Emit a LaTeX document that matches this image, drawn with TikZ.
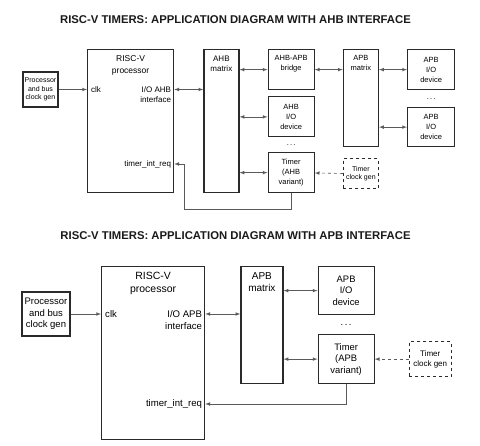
\documentclass[tikz,border=0pt]{standalone}
\usepackage{fontspec}
\setmainfont{Liberation Sans}
\usepackage{tikz}
\usepackage{xcolor}
\usetikzlibrary{arrows, positioning}
\definecolor{boxline}{HTML}{2A2A2A}
\definecolor{wireline}{HTML}{5A5A5A}
\definecolor{titletext}{HTML}{1A1A1A}

\begin{document}
\begin{tikzpicture}[x=1pt, y=-1pt, >=latex,
  block/.style={draw=boxline, line width=1.25pt, fill=white, inner sep=1pt, align=center},
  clkbox/.style={block, dashed, line width=1pt},
  wire/.style={draw=wireline, line width=0.65pt},
  bus/.style={wire, <->},
  title/.style={font=\bfseries\fontsize{11.3}{13}\selectfont, text=titletext},
  small/.style={font=\fontsize{7.5}{10}\selectfont},
  smallport/.style={inner sep=1pt, align=right, font=\fontsize{8}{10}\selectfont},
  large/.style={font=\fontsize{9.4}{11.5}\selectfont},
  largeport/.style={inner sep=1pt, align=right, font=\fontsize{9.6}{12}\selectfont}]

\useasboundingbox (0,0) rectangle (480,446);

\node[title] (title1) at (235.5,20) {RISC-V TIMERS: APPLICATION DIAGRAM WITH AHB INTERFACE};

\node[block, minimum width=86pt, minimum height=143pt, anchor=north west,
  label={[anchor=north, yshift=-3pt, align=center, font=\fontsize{8.5}{12}\selectfont]north:RISC-V\\processor}] (cpu1) at (87,49) {};
\node[block, small, font=\fontsize{7}{8.5}\selectfont, minimum width=35pt, minimum height=35pt] (pclk1) at (40.5,89.5) {Processor\\and bus\\clock gen};
\node[block, minimum width=35pt, minimum height=143pt, right=29pt of cpu1,
  label={[anchor=north, yshift=-3pt, align=center, font=\fontsize{8}{10}\selectfont]north:AHB\\matrix}] (ahbm) {};
\node[block, minimum width=46pt, minimum height=40pt, right=28pt of ahbm.north east, anchor=north west,
  label={[anchor=north, yshift=-3pt, align=center, small]north:AHB-APB\\bridge}] (bridge) {};
\node[block, small, minimum width=46pt, minimum height=40pt, below=6pt of bridge] (ahbdev) {AHB\\I/O\\device};
\node[block, small, minimum width=46pt, minimum height=40pt, right=28pt of ahbm.south east, anchor=south west] (tmr1) {Timer\\(AHB\\variant)};
\path (ahbdev.south) -- node[small] (dots1) {.\,.\,.} (tmr1.north);
\node[block, minimum width=35pt, minimum height=97pt, right=28pt of bridge.north east, anchor=north west,
  label={[anchor=north, yshift=-3pt, align=center, small]north:APB\\matrix}] (apbm1) {};
\node[block, small, minimum width=47pt, minimum height=40pt, right=28pt of apbm1.north east, anchor=north west] (apbdev1) {APB\\I/O\\device};
\node[block, small, minimum width=47pt, minimum height=39pt, right=28pt of apbm1.south east, anchor=south west] (apbdev2) {APB\\I/O\\device};
\path (apbdev1.south) -- node[small] (dots2) {.\,.\,.} (apbdev2.north);
\node[clkbox, font=\fontsize{7}{8}\selectfont, minimum width=35pt, minimum height=30pt, below=11pt of apbm1] (tclk1) {Timer\\clock gen};

\node[smallport, anchor=west, xshift=3pt] (clk1) at (cpu1.west |- pclk1) {clk};
\node[smallport, anchor=north east, xshift=-2pt] (io1) at (cpu1.east |- clk1.north) {I/O AHB\\interface};
\node[smallport, anchor=east, xshift=-2pt] (irq1) at (cpu1.east |- 0,164) {timer\_int\_req};
\coordinate (bend1) at (184,209);

\draw[wire, ->] (pclk1) -- (pclk1 -| cpu1.west);
\draw[bus] (clk1 -| cpu1.east) -- (clk1 -| ahbm.west);
\draw[bus] (bridge.west -| ahbm.east) -- (bridge);
\draw[bus] (ahbdev.west -| ahbm.east) -- (ahbdev);
\draw[bus] (tmr1.west -| ahbm.east) -- (tmr1);
\draw[bus] (bridge) -- (bridge -| apbm1.west);
\draw[bus] (apbdev1.west -| apbm1.east) -- (apbdev1);
\draw[bus] (apbdev2.west -| apbm1.east) -- (apbdev2);
\draw[wire, dashed, ->] (tclk1) -- (tmr1);
\draw[wire, ->] (tmr1.south) |- (bend1) |- (irq1 -| cpu1.east);

\node[title] (title2) at (235.5,236) {RISC-V TIMERS: APPLICATION DIAGRAM WITH APB INTERFACE};

\node[block, minimum width=103pt, minimum height=173pt, anchor=north west,
  label={[anchor=north, yshift=-3pt, align=center, font=\fontsize{10.5}{13}\selectfont]north:RISC-V\\processor}] (cpu2) at (101,266) {};
\node[block, font=\fontsize{9.5}{11.7}\selectfont, minimum width=48pt, minimum height=44pt] (pclk2) at (46,314) {Processor\\and bus\\clock gen};
\node[block, minimum width=42pt, minimum height=117pt, right=35pt of cpu2.north east, anchor=north west,
  label={[anchor=north, yshift=-3pt, align=center, font=\fontsize{10}{12}\selectfont]north:APB\\matrix}] (apbm2) {};
\node[block, large, minimum width=56pt, minimum height=48pt, right=34pt of apbm2.north east, anchor=north west] (apbdev3) {APB\\I/O\\device};
\node[block, large, minimum width=56pt, minimum height=49pt, right=34pt of apbm2.south east, anchor=south west] (tmr2) {Timer\\(APB\\variant)};
\path (apbdev3.south) -- node[large] (dots3) {.\,.\,.} (tmr2.north);
\node[clkbox, font=\fontsize{8}{10}\selectfont, minimum width=42pt, minimum height=35pt, right=34pt of tmr2] (tclk2) {Timer\\clock gen};

\node[largeport, anchor=west, xshift=3pt] (clk2) at (cpu2.west |- pclk2) {clk};
\node[largeport, anchor=north east, xshift=-2pt] (io2) at (cpu2.east |- clk2.north) {I/O APB\\interface};
\node[largeport, anchor=east, xshift=-2pt] (irq2) at (cpu2.east |- 0,404) {timer\_int\_req};

\draw[wire, ->] (pclk2) -- (pclk2 -| cpu2.west);
\draw[bus] (clk2 -| cpu2.east) -- (clk2 -| apbm2.west);
\draw[bus] (apbdev3.west -| apbm2.east) -- (apbdev3);
\draw[bus] (tmr2.west -| apbm2.east) -- (tmr2);
\draw[wire, dashed, ->] (tclk2) -- (tmr2);
\draw[wire, ->] (tmr2.south) |- (irq2 -| cpu2.east);
\end{tikzpicture}
\end{document}
